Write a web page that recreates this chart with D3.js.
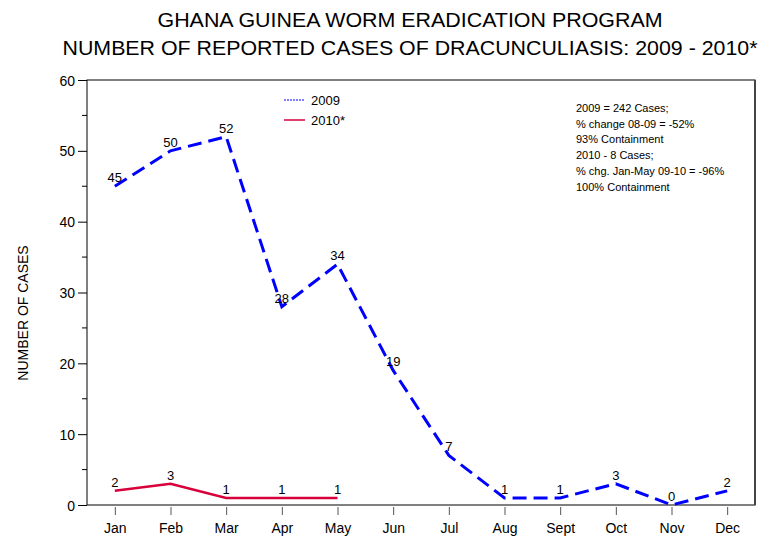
<!DOCTYPE html>
<html>
<head>
<meta charset="utf-8">
<script src="https://cdn.jsdelivr.net/npm/d3@7"></script>
<style>
  body { margin: 0; background: #fff; }
  text { font-family: "Liberation Sans", Arial, sans-serif; fill: #000; }
</style>
</head>
<body>
<div id="chart"></div>
<script>
// chart data
var months = ["Jan", "Feb", "Mar", "Apr", "May", "Jun", "Jul", "Aug", "Sept", "Oct", "Nov", "Dec"];
var cases2009 = [45, 50, 52, 28, 34, 19, 7, 1, 1, 3, 0, 2];
var cases2010 = [2, 3, 1, 1, 1];
var yTicks = [0, 10, 20, 30, 40, 50, 60];
var yMinorTicks = [5, 15, 25, 35, 45, 55];
var notes = [
  "2009 = 242 Cases;",
  "% change 08-09 = -52%",
  "93% Containment",
  "2010 - 8 Cases;",
  "% chg. Jan-May 09-10 = -96%",
  "100% Containment"
];

var outerWidth = 766,
    outerHeight = 541,
    plot = { left: 87, top: 80, right: 755, bottom: 505 };

var svg = d3.select("#chart")
            .append("svg")
            .attr("width", outerWidth)
            .attr("height", outerHeight);

// scales
var xScale = d3.scalePoint()
               .domain(months)
               .range([plot.left, plot.right])
               .padding(0.5);

var yScale = d3.scaleLinear()
               .domain([0, 60])
               .range([plot.bottom, plot.top]);

// title (condensed look via textLength)
var titles = [
  { text: "GHANA GUINEA WORM ERADICATION PROGRAM", y: 27, len: 505 },
  { text: "NUMBER OF REPORTED CASES OF DRACUNCULIASIS: 2009 - 2010*", y: 55, len: 695 }
];
svg.append("g")
   .selectAll("text")
   .data(titles)
   .enter()
   .append("text")
   .attr("x", 410)
   .attr("y", d => d.y)
   .attr("text-anchor", "middle")
   .attr("textLength", d => d.len)
   .attr("lengthAdjust", "spacingAndGlyphs")
   .style("font-size", "21px")
   .text(d => d.text);

// frame
svg.append("rect")
   .attr("x", plot.left)
   .attr("y", plot.top)
   .attr("width", plot.right - plot.left)
   .attr("height", plot.bottom - plot.top)
   .attr("fill", "none")
   .attr("stroke", "#000")
   .attr("stroke-width", 1);

svg.append("line")
   .attr("x1", plot.right)
   .attr("x2", plot.right)
   .attr("y1", plot.top)
   .attr("y2", plot.bottom)
   .attr("stroke", "#444")
   .attr("stroke-width", 2);

// y axis
var yAxis = d3.axisLeft(yScale)
              .tickValues(yTicks)
              .tickSize(9)
              .tickPadding(3)
              .tickFormat(d3.format("d"));

var yAxisG = svg.append("g")
   .attr("transform", "translate(" + plot.left + ",0)")
   .call(yAxis);
yAxisG.select(".domain").remove();
yAxisG.selectAll("text").style("font-size", "14px").attr("dy", "0.36em");

svg.append("g")
   .selectAll("line")
   .data(yMinorTicks)
   .enter()
   .append("line")
   .attr("x1", plot.left - 5)
   .attr("x2", plot.left)
   .attr("y1", d => yScale(d))
   .attr("y2", d => yScale(d))
   .attr("stroke", "#000");

// x axis
var xAxis = d3.axisBottom(xScale)
              .tickSize(8)
              .tickPadding(8);

var xAxisG = svg.append("g")
   .attr("transform", "translate(0," + (plot.bottom + 2) + ")")
   .call(xAxis);
xAxisG.select(".domain").remove();
xAxisG.selectAll("line").attr("stroke", "#555");
xAxisG.selectAll("text").style("font-size", "14px");

// y label
svg.append("text")
   .attr("transform", "translate(28,313) rotate(-90)")
   .attr("text-anchor", "middle")
   .style("font-size", "14px")
   .text("NUMBER OF CASES");

// lines
var line = d3.line()
             .x((d, i) => xScale(months[i]))
             .y(d => yScale(d));

svg.append("path")
   .datum(cases2009)
   .attr("d", line)
   .attr("fill", "none")
   .attr("stroke", "#0000ff")
   .attr("stroke-width", 3)
   .attr("stroke-dasharray", "14,7");

svg.append("path")
   .datum(cases2010)
   .attr("d", line)
   .attr("fill", "none")
   .attr("stroke", "#d8003a")
   .attr("stroke-width", 2.5);

// value labels
function addLabels(values) {
  svg.append("g")
     .selectAll("text")
     .data(values)
     .enter()
     .append("text")
     .attr("x", (d, i) => xScale(months[i]))
     .attr("y", d => yScale(d) - 4)
     .attr("text-anchor", "middle")
     .style("font-size", "13px")
     .text(d => d);
}
addLabels(cases2009);
addLabels(cases2010);

// legend
var legend = [
  { name: "2009", color: "#0000ff", dash: "2,1", width: 1, y: 100 },
  { name: "2010*", color: "#d8003a", dash: null, width: 1.5, y: 120 }
];
var legendG = svg.append("g");
legendG.selectAll("line")
       .data(legend)
       .enter()
       .append("line")
       .attr("x1", 284)
       .attr("x2", 305)
       .attr("y1", d => d.y)
       .attr("y2", d => d.y)
       .attr("stroke", d => d.color)
       .attr("stroke-width", d => d.width)
       .attr("stroke-dasharray", d => d.dash);
legendG.selectAll("text")
       .data(legend)
       .enter()
       .append("text")
       .attr("x", 311)
       .attr("y", d => d.y + 5)
       .style("font-size", "13px")
       .text(d => d.name);

// notes
svg.append("g")
   .selectAll("text")
   .data(notes)
   .enter()
   .append("text")
   .attr("x", 576)
   .attr("y", (d, i) => 112 + i * 15.7)
   .style("font-size", "11px")
   .text(d => d);
</script>
</body>
</html>
